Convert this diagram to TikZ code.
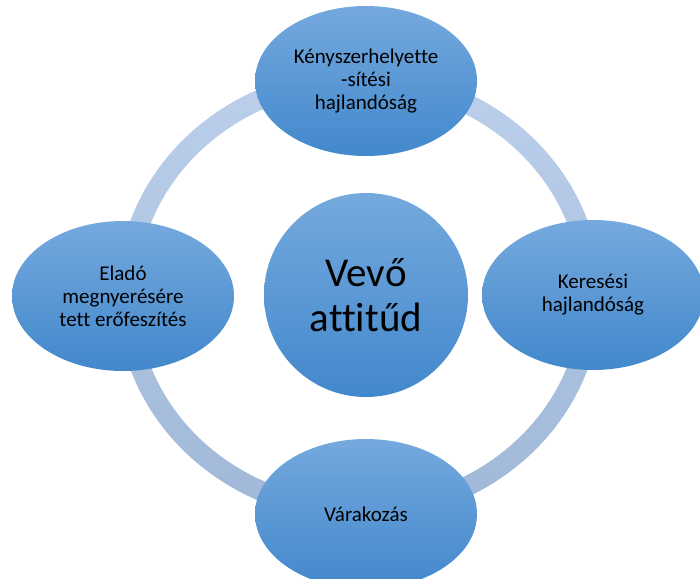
\documentclass[tikz,border=0pt]{standalone}
\usepackage{fontspec}
\setmainfont{Carlito}[Ligatures={NoCommon}]
\usetikzlibrary{shapes.geometric}
\definecolor{ringtop}{RGB}{188,208,236}
\definecolor{ringbot}{RGB}{160,183,215}
\definecolor{ntop}{RGB}{117,169,222}
\definecolor{nbot}{RGB}{66,136,204}
\begin{document}
\begin{tikzpicture}[x=1pt,y=-1pt,
  bub/.style={ellipse, top color=ntop, bottom color=nbot, minimum width=222pt, minimum height=150pt, inner sep=0pt, align=center, text=black, font=\fontsize{21}{23}\selectfont},
  hub/.style={circle, top color=ntop, bottom color=nbot, minimum size=204pt, inner sep=0pt, align=center, text=black, font=\fontsize{41}{45}\selectfont}]
\useasboundingbox (0,0) rectangle (700,578);
\clip (0,0) rectangle (700,578);
\path[even odd rule, top color=ringtop, bottom color=ringbot]
  (359,295) ellipse [x radius=242, y radius=226]
  (359,295) ellipse [x radius=222, y radius=206];
\node[bub] (k) at (366,81) {Kényszerhelyette\\-sítési\\hajlandóság};
\node[bub] (r) at (593,295) {Keresési\\hajlandóság};
\node[bub] (v) at (366,514) {Várakozás};
\node[bub] (e) at (123,296) {Eladó\\megnyerésére\\tett erőfeszítés};
\node[hub] (c) at (366,295) {Vevő\\attitűd};
\end{tikzpicture}
\end{document}
